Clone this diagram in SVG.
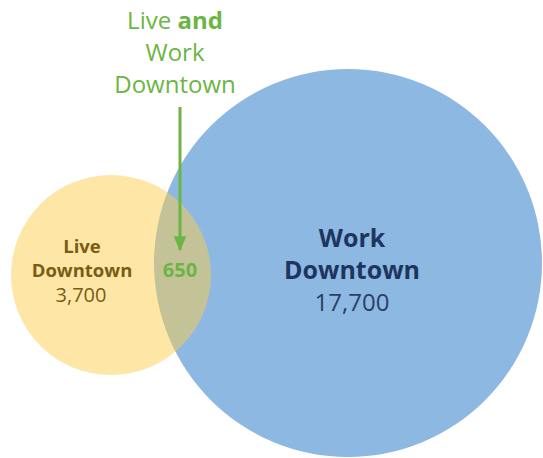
<svg xmlns="http://www.w3.org/2000/svg" width="543" height="458" viewBox="0 0 543 458">
<defs>
<style>
text{font-family:"Open Sans","Noto Sans",sans-serif;text-anchor:middle}
.g{fill:#6cb544;font-size:24px}
.y{fill:#7a5c14;font-size:18.5px}
.b{fill:#1f3561;font-size:25px}
.bold{font-weight:700}
</style>
<marker id="ah" markerWidth="5" markerHeight="4.2" refX="4.6" refY="2.1" orient="auto" markerUnits="strokeWidth">
<path d="M0,0 L5,2.1 L0,4.2 Z" fill="#6cb544"/>
</marker>
</defs>
<rect width="543" height="458" fill="#ffffff"/>
<g id="work-downtown">
<circle cx="348" cy="263" r="194" fill="#8db8e2"/>
<text class="b bold" x="352" y="247">Work</text>
<text class="b bold" x="352" y="279">Downtown</text>
<text class="b" x="352" y="311" style="font-size:24px;fill:#2a3f66">17,700</text>
</g>
<g id="live-downtown">
<circle cx="111" cy="275" r="100" fill="#fbcd4d" fill-opacity="0.5"/>
<text class="y bold" x="82" y="253">Live</text>
<text class="y bold" x="82" y="277">Downtown</text>
<text class="y" x="81" y="302" style="font-size:20px">3,700</text>
</g>
<g id="connectors">
<line x1="180" y1="107" x2="180" y2="250" stroke="#6cb544" stroke-width="3" marker-end="url(#ah)"/>
</g>
<g id="live-and-work">
<text class="g" x="175" y="29">Live <tspan class="bold">and</tspan></text>
<text class="g" x="175" y="61">Work</text>
<text class="g" x="175" y="93">Downtown</text>
<text class="g bold" x="180" y="277" style="font-size:20px">650</text>
</g>
</svg>
